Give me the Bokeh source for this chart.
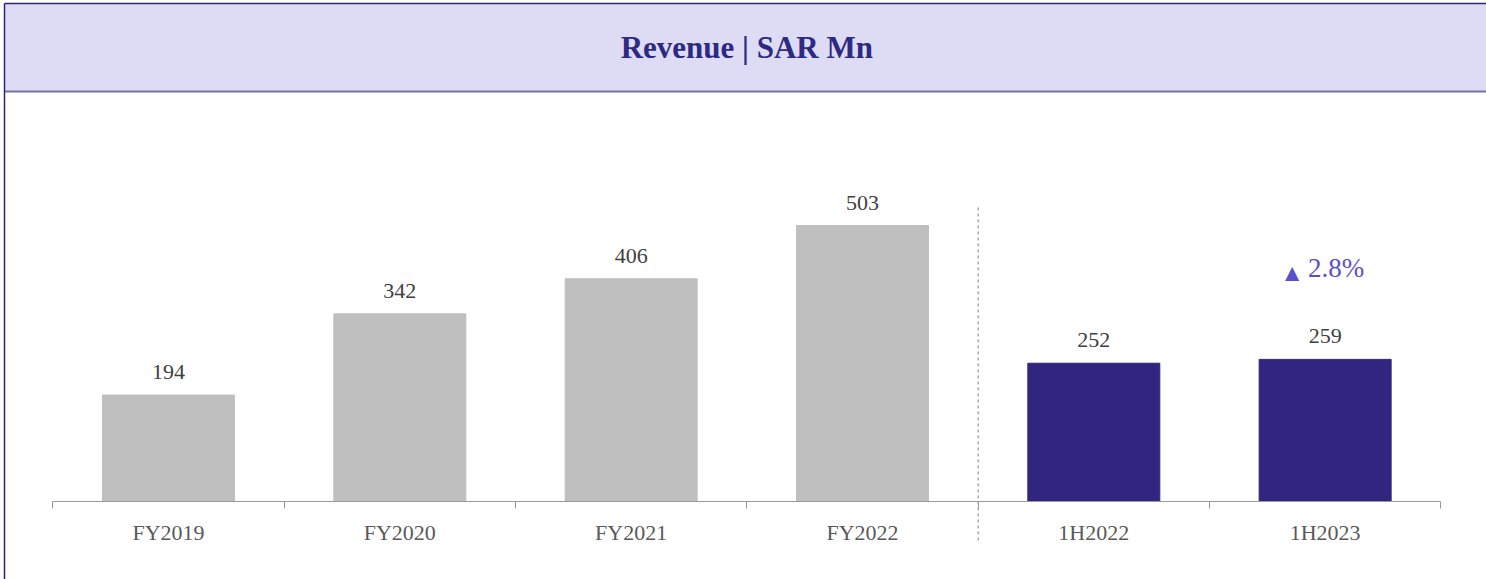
from bokeh.plotting import figure
from bokeh.models import (ColumnDataSource, Range1d, FixedTicker, LabelSet, Label,
                          BoxAnnotation, LinearAxis)
from bokeh.embed import file_html
from bokeh.resources import INLINE

# ---- data ----
categories = ["FY2019", "FY2020", "FY2021", "FY2022", "1H2022", "1H2023"]
revenue = [194, 342, 406, 503, 252, 259]
bar_colors = ["#BFBFBF", "#BFBFBF", "#BFBFBF", "#BFBFBF", "#31267F", "#31267F"]
title_text = "Revenue | SAR Mn"

SERIF = "Liberation Serif"
W, H = 1486, 579

idx = list(range(len(categories)))
growth = (revenue[5] - revenue[4]) / revenue[4] * 100

X0, X1 = -0.7262, 5.6975
Y0, Y1 = -142.2, 913.1
LEFT_EDGE = -0.7089
HEAD_BOTTOM, HEAD_TOP = 747.2, 907.6

src = ColumnDataSource(dict(x=idx, top=revenue, color=bar_colors,
                            label=[str(v) for v in revenue]))

p = figure(width=W, height=H, output_backend="svg", toolbar_location=None,
           x_range=Range1d(X0, X1), y_range=Range1d(Y0, Y1),
           min_border=0, min_border_left=0, min_border_right=0,
           min_border_top=0, min_border_bottom=0, x_axis_location=None,
           y_axis_location=None)
p.outline_line_color = None
p.xgrid.visible = False
p.ygrid.visible = False
p.background_fill_color = "white"
p.border_fill_color = "white"

# header band and frame lines
p.add_layout(BoxAnnotation(bottom=HEAD_BOTTOM, top=HEAD_TOP, left=LEFT_EDGE,
                           fill_color="#DEDCF4", fill_alpha=1.0,
                           line_color=None, level="underlay"))
p.segment(x0=[LEFT_EDGE], y0=[HEAD_BOTTOM], x1=[X1], y1=[HEAD_BOTTOM],
          line_color="#77739F", line_width=2)
p.segment(x0=[LEFT_EDGE], y0=[HEAD_TOP], x1=[X1], y1=[HEAD_TOP],
          line_color="#2E2675", line_width=1.5)
p.segment(x0=[LEFT_EDGE], y0=[Y0], x1=[LEFT_EDGE], y1=[HEAD_TOP],
          line_color="#2E2675", line_width=1.5)
p.add_layout(Label(x=2.5, y=827.4, text=title_text, text_align="center",
                   text_baseline="middle", text_font=SERIF,
                   text_font_style="bold", text_font_size="31px",
                   text_color="#2E2A84"))

# bars
p.vbar(x="x", top="top", width=0.5706, bottom=0, color="color", source=src)

p.add_layout(LabelSet(x="x", y="top", text="label", source=src,
                      text_align="center", text_baseline="alphabetic",
                      y_offset=16, text_font=SERIF, text_font_size="22px",
                      text_color="#404040"))

# separator between full years and half years
p.segment(x0=[3.5], y0=[-71], x1=[3.5], y1=[539.5], line_color="#808080",
          line_width=1, line_dash="3 3")

# growth annotation
p.add_layout(Label(x=5, y=revenue[5], y_offset=91, x_offset=11,
                   text=f"{growth:.1f}%", text_align="center",
                   text_baseline="middle", text_font=SERIF,
                   text_font_size="27px", text_color="#5B4FCF"))
p.add_layout(Label(x=5, y=revenue[5], y_offset=86, x_offset=-33,
                   text="\u25B2", text_align="center",
                   text_baseline="middle", text_font=SERIF,
                   text_font_size="24px", text_color="#5B4FCF"))

# x axis
ax = LinearAxis(fixed_location=0)
ax.ticker = FixedTicker(ticks=idx, minor_ticks=[i - 0.5 for i in range(len(categories) + 1)])
ax.major_label_overrides = {i: c for i, c in enumerate(categories)}
ax.bounds = (-0.5, 5.5)
ax.axis_line_color = "#999999"
ax.axis_line_width = 1
ax.major_tick_line_color = None
ax.major_tick_out = 0
ax.major_tick_in = 0
ax.minor_tick_line_color = "#999999"
ax.minor_tick_out = 7
ax.minor_tick_in = 0
ax.major_label_standoff = 12
ax.major_label_text_font = SERIF
ax.major_label_text_font_size = "22px"
ax.major_label_text_color = "#595959"
p.add_layout(ax, "below")

open("out.html", "w").write(file_html(p, INLINE))
